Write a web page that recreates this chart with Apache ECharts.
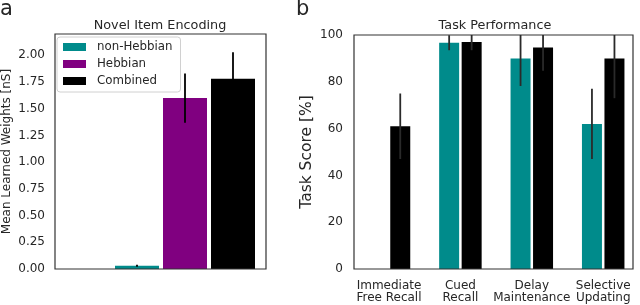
<!DOCTYPE html>
<html>
<head>
<meta charset="utf-8">
<script src="https://cdn.jsdelivr.net/npm/echarts@6/dist/echarts.min.js"></script>
<style>html,body{margin:0;padding:0;background:#fff}#c{width:640px;height:305px}</style>
</head>
<body>
<div id="c"></div>
<script>
// ---- data ----
var seriesNames = ['non-Hebbian', 'Hebbian', 'Combined'];
// Panel a: Novel Item Encoding (first slot is empty)
var catsA = ['', 'non-Hebbian', 'Hebbian', 'Combined'];
var aNonHebbian = ['-', 0.03, '-', '-'];
var aHebbian    = ['-', '-', 1.60, '-'];
var aCombined   = ['-', '-', '-', 1.78];
var aMeans      = ['-', 0.03, 1.60, 1.78];
var aErr        = [null, 0.01, 0.23, 0.25];
var aTicks = [0, 0.25, 0.5, 0.75, 1.0, 1.25, 1.5, 1.75, 2.0];
// Panel b: Task Performance
var catsB = ['Immediate\nFree Recall', 'Cued\nRecall', 'Delay\nMaintenance', 'Selective\nUpdating'];
var bNonHebbian    = ['-', 96.7, 90, 62];
var bNonHebbianErr = [null, 3.2, 11.8, 15];
var bCombined      = [61, 97, 94.7, 90];
var bCombinedErr   = [14, 3.5, 10, 17];

var colors = {'non-Hebbian': '#008b8b', 'Hebbian': '#800080', 'Combined': '#000000'};
var FONT = 'DejaVu Sans';
var TXT = '#262626';

function errSeries(name, xAxisIndex, yAxisIndex, vals, errs, offset, color) {
  var d = [];
  for (var i = 0; i < vals.length; i++) {
    if (errs[i] != null && vals[i] !== '-') d.push([i, vals[i], errs[i]]);
  }
  return {
    name: name, type: 'custom', xAxisIndex: xAxisIndex, yAxisIndex: yAxisIndex,
    clip: true, z: 5, silent: true,
    data: d,
    renderItem: function (params, api) {
      var x = api.value(0), y = api.value(1), e = api.value(2);
      var p1 = api.coord([x, y + e]);
      var p2 = api.coord([x, y - e]);
      return {
        type: 'line',
        shape: {x1: p1[0] + offset, y1: p1[1], x2: p2[0] + offset, y2: p2[1]},
        style: {stroke: color, lineWidth: 1.8}
      };
    }
  };
}

var chart = echarts.init(document.getElementById('c'), null, {renderer: 'canvas'});
var option = {
  animation: false,
  textStyle: {fontFamily: FONT},
  title: [
    {text: 'a', left: 0, top: -1, padding: 0, textStyle: {fontFamily: FONT, fontSize: 21, fontWeight: 'normal', color: TXT}},
    {text: 'b', left: 296, top: -1, padding: 0, textStyle: {fontFamily: FONT, fontSize: 21, fontWeight: 'normal', color: TXT}},
    {text: 'Novel Item Encoding', left: 160, top: 19, padding: 0, textAlign: 'center', textStyle: {fontFamily: FONT, fontSize: 12.8, fontWeight: 'normal', color: TXT}},
    {text: 'Task Performance', left: 495, top: 19, padding: 0, textAlign: 'center', textStyle: {fontFamily: FONT, fontSize: 12.8, fontWeight: 'normal', color: TXT}}
  ],
  legend: {
    data: seriesNames, orient: 'vertical', left: 57, top: 37,
    selectedMode: false,
    backgroundColor: '#fff', borderColor: '#d0d0d0', borderWidth: 1, borderRadius: 3,
    padding: [3, 8, 4, 6], itemGap: 3, itemWidth: 23, itemHeight: 8, icon: 'rect',
    textStyle: {fontFamily: FONT, fontSize: 11.8, color: TXT, lineHeight: 14, padding: [0, 0, 0, 6]}
  },
  grid: [
    {left: 54, top: 34, width: 212, height: 235, show: true, borderColor: '#333', borderWidth: 1.2, backgroundColor: 'transparent', z: 3},
    {left: 65, top: 34, width: 192, height: 235},
    {left: 354, top: 35, width: 279, height: 234, show: true, borderColor: '#333', borderWidth: 1.2, backgroundColor: 'transparent', z: 3},
    {left: 353.3, top: 35, width: 285.6, height: 234}
  ],
  xAxis: [
    {gridIndex: 0, type: 'value', min: 0, max: 1, show: false},
    {gridIndex: 1, type: 'category', data: catsA, show: false},
    {gridIndex: 2, type: 'value', min: 0, max: 1, show: false},
    {gridIndex: 3, type: 'category', data: catsB,
     axisLine: {show: false}, axisTick: {show: false}, splitLine: {show: false},
     axisLabel: {margin: 11, fontFamily: FONT, fontSize: 12, color: TXT, lineHeight: 12, interval: 0, verticalAlign: 'top'}}
  ],
  yAxis: [
    {gridIndex: 0, type: 'value', min: 0, max: 2.2, interval: 0.25,
     name: 'Mean Learned Weights [nS]', nameLocation: 'middle', nameGap: 42,
     nameTextStyle: {fontFamily: FONT, fontSize: 12, color: TXT},
     axisLine: {show: false}, axisTick: {show: false}, splitLine: {show: false},
     axisLabel: {customValues: aTicks, margin: 10, fontFamily: FONT, fontSize: 12, color: TXT,
                 formatter: function (v) { return v.toFixed(2); }}},
    {gridIndex: 1, type: 'value', min: 0, max: 2.2, show: false},
    {gridIndex: 2, type: 'value', min: 0, max: 100, interval: 20,
     name: 'Task Score [%]', nameLocation: 'middle', nameGap: 39,
     nameTextStyle: {fontFamily: FONT, fontSize: 15.5, color: TXT},
     axisLine: {show: false}, axisTick: {show: false}, splitLine: {show: false},
     axisLabel: {margin: 11, fontFamily: FONT, fontSize: 12, color: TXT}},
    {gridIndex: 3, type: 'value', min: 0, max: 100, show: false}
  ],
  series: [
    {name: 'non-Hebbian', type: 'bar', xAxisIndex: 1, yAxisIndex: 1, data: aNonHebbian, barWidth: 44, barGap: '-100%', itemStyle: {color: colors['non-Hebbian']}},
    {name: 'Hebbian', type: 'bar', xAxisIndex: 1, yAxisIndex: 1, data: aHebbian, barWidth: 44, barGap: '-100%', itemStyle: {color: colors['Hebbian']}},
    {name: 'Combined', type: 'bar', xAxisIndex: 1, yAxisIndex: 1, data: aCombined, barWidth: 44, barGap: '-100%', itemStyle: {color: colors['Combined']}},
    errSeries('errA', 1, 1, aMeans, aErr, 0, '#000'),
    {name: 'non-Hebbian', type: 'bar', xAxisIndex: 3, yAxisIndex: 3, data: bNonHebbian, barWidth: 20, barGap: '12.5%', itemStyle: {color: colors['non-Hebbian']}},
    {name: 'Combined', type: 'bar', xAxisIndex: 3, yAxisIndex: 3, data: bCombined, barWidth: 20, barGap: '12.5%', itemStyle: {color: colors['Combined']}},
    errSeries('errB1', 3, 3, bNonHebbian, bNonHebbianErr, -11.25, '#2a2a2a'),
    errSeries('errB2', 3, 3, bCombined, bCombinedErr, 11.25, '#2a2a2a')
  ]
};
chart.setOption(option);
</script>
</body>
</html>
